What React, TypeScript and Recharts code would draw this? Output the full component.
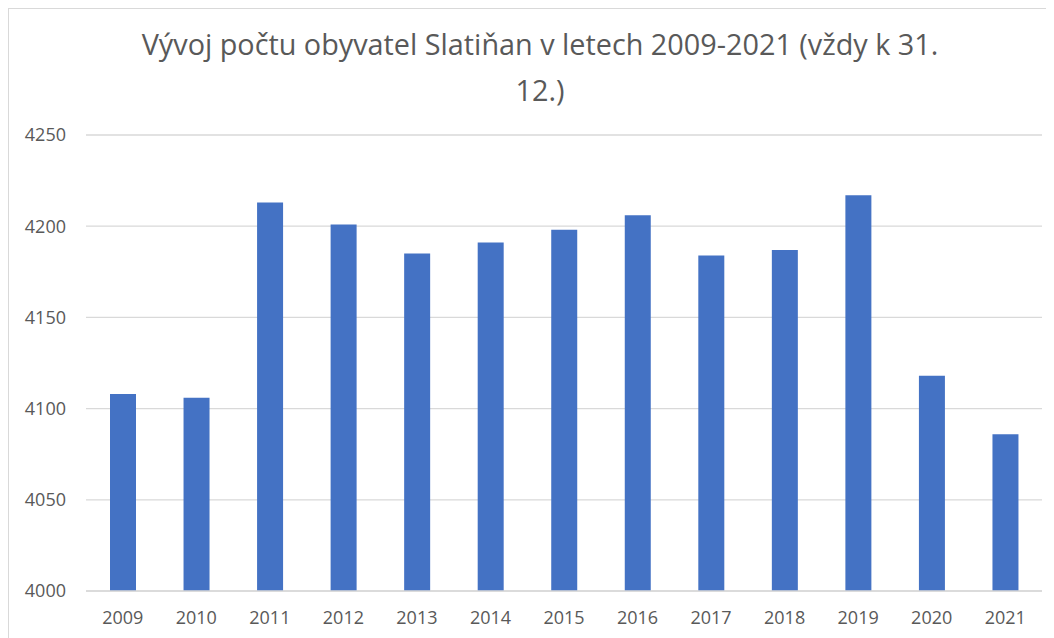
import { Bar, BarChart, CartesianGrid, XAxis, YAxis } from "recharts"

const years = ["2009", "2010", "2011", "2012", "2013", "2014", "2015", "2016", "2017", "2018", "2019", "2020", "2021"]
const population = [4108, 4106, 4213, 4201, 4185, 4191, 4198, 4206, 4184, 4187, 4217, 4118, 4086]
const yTicks = [4000, 4050, 4100, 4150, 4200, 4250]

const data = years.map((y, i) => ({ year: y, value: population[i] }))

const font = "'Open Sans', sans-serif"
const grey = "#595959"

export default function App() {
  return (
    <div
      style={{
        position: "relative",
        width: 1060,
        height: 640,
        border: "1px solid #d9d9d9",
        boxSizing: "border-box",
        background: "#fff",
        fontFamily: font,
      }}
    >
      <div
        style={{
          position: "absolute",
          left: 0,
          top: 12,
          width: 1062,
          textAlign: "center",
          color: grey,
          fontSize: 28.8,
          lineHeight: "46px",
        }}
      >
        Vývoj počtu obyvatel Slatiňan v letech 2009-2021 (vždy k 31.
        <br />
        12.)
      </div>
      <div style={{ position: "absolute", left: 0, top: 0 }}>
        <BarChart
          width={1045}
          height={629}
          data={data}
          margin={{ top: 126, right: 12, bottom: 17, left: 0 }}
        >
          <CartesianGrid vertical={false} stroke="#d9d9d9" strokeWidth={1.3} />
          <XAxis
            dataKey="year"
            axisLine={{ stroke: "#d9d9d9", strokeWidth: 1.3 }}
            tickLine={false}
            tickSize={0}
            tickMargin={20}
            height={30}
            tick={{ fill: grey, fontSize: 18, fontFamily: font }}
          />
          <YAxis
            domain={[4000, 4250]}
            ticks={yTicks}
            axisLine={false}
            tickLine={false}
            tickSize={0}
            tickMargin={20}
            width={77}
            tick={{ fill: grey, fontSize: 18, fontFamily: font }}
          />
          <Bar dataKey="value" fill="#4472c4" barSize={26} isAnimationActive={false} />
        </BarChart>
      </div>
    </div>
  )
}
